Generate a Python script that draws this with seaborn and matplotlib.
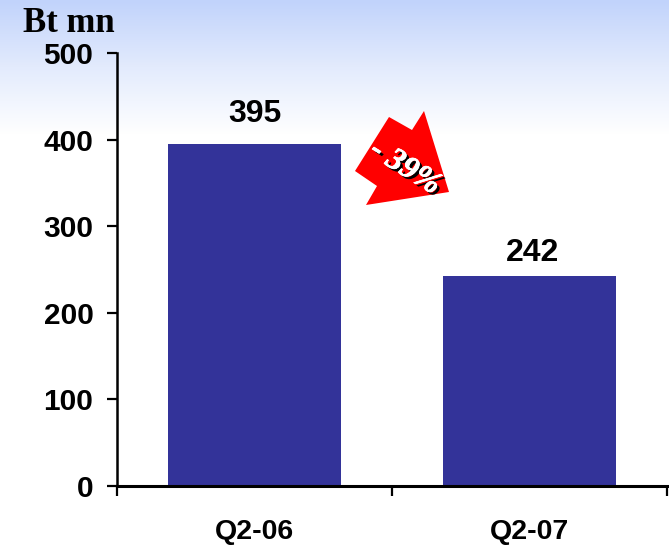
import matplotlib
matplotlib.use("Agg")
import matplotlib.pyplot as plt
import matplotlib.patheffects as pe
from matplotlib.colors import LinearSegmentedColormap
from matplotlib.patches import Polygon
from matplotlib.ticker import FixedLocator
import numpy as np
import pandas as pd
import seaborn as sns

quarters = ["Q2-06", "Q2-07"]
profit = [395, 242]
y_ticks = [0, 100, 200, 300, 400, 500]
change_label = "- 39%"
unit_label = "Bt mn"

W, H = 669, 548
sns.set_theme(style="white")
plt.rcParams["font.family"] = ["Liberation Sans", "DejaVu Sans"]

fig = plt.figure(figsize=(W / 100, H / 100), dpi=100)

# background fade, light blue at the top down to white
bg = fig.add_axes([0, 0, 1, 1], zorder=0)
fade = LinearSegmentedColormap.from_list("fade", ["#c1d3fb", "#e3ebfd", "#ffffff"])
bg.imshow(np.linspace(0, 1, 135).reshape(-1, 1), cmap=fade, aspect="auto",
          extent=[0, W, H - 135, H])
bg.set_xlim(0, W)
bg.set_ylim(0, H)
bg.axis("off")

# axes box taken from the pixel positions of the axis lines
ax = fig.add_axes([117 / W, (H - 486) / H, 550 / W, 433 / H], zorder=1)
ax.patch.set_alpha(0)

df = pd.DataFrame({"quarter": quarters, "profit": profit})
sns.barplot(data=df, x="quarter", y="profit", color="#333399", saturation=1,
            width=0.632, linewidth=0, ax=ax)
bar_labels = ax.bar_label(ax.containers[0], fontsize=23, fontweight="bold", color="black")
# the two value labels do not sit at the same distance from their bars
bar_labels[0].xyann = (0, 11)
bar_labels[1].xyann = (2, 6)

ax.set_xlim(-0.5, 1.5)
ax.set_ylim(0, 500)
ax.set_xlabel("")
ax.set_ylabel("")
ax.set_yticks(y_ticks)
ax.tick_params(axis="y", length=7, width=1.6, color="black", pad=10, labelsize=21.5, left=True)
ax.tick_params(axis="x", which="major", length=0, pad=24, labelsize=20.5)
ax.xaxis.set_minor_locator(FixedLocator([-0.5, 0.5, 1.5]))
ax.tick_params(axis="x", which="minor", length=7, width=1.6, color="black", bottom=True)
for lab in ax.get_xticklabels() + ax.get_yticklabels():
    lab.set_fontweight("bold")
    lab.set_color("black")
sns.despine(ax=ax)
ax.spines["left"].set_linewidth(1.8)
ax.spines["bottom"].set_linewidth(2.2)
for side in ["left", "bottom"]:
    ax.spines[side].set_color("black")

fig.text(69 / W, (H - 23) / H, unit_label, family="Liberation Serif", fontweight="bold",
         fontsize=25, color="black", ha="center", va="center")

# red arrow callout, traced in image pixels
arrow_px = [(389, 117), (412, 130), (424, 111), (449, 192), (366, 205), (377, 186), (355, 171)]
arrow = Polygon([(x / W, (H - y) / H) for x, y in arrow_px], closed=True, facecolor="#ff0000",
                edgecolor="none", transform=fig.transFigure, zorder=3)
fig.add_artist(arrow)
fig.text(405 / W, (H - 168) / H, change_label, family="Liberation Serif", fontweight="bold",
         style="italic", fontsize=23, color="white", rotation=-32, rotation_mode="anchor",
         ha="center", va="center", zorder=4,
         path_effects=[pe.withSimplePatchShadow(offset=(2, -2), shadow_rgbFace="black", alpha=1),
                       pe.Stroke(linewidth=0.5, foreground="white"), pe.Normal()])

fig.savefig("out.png", dpi=100)
